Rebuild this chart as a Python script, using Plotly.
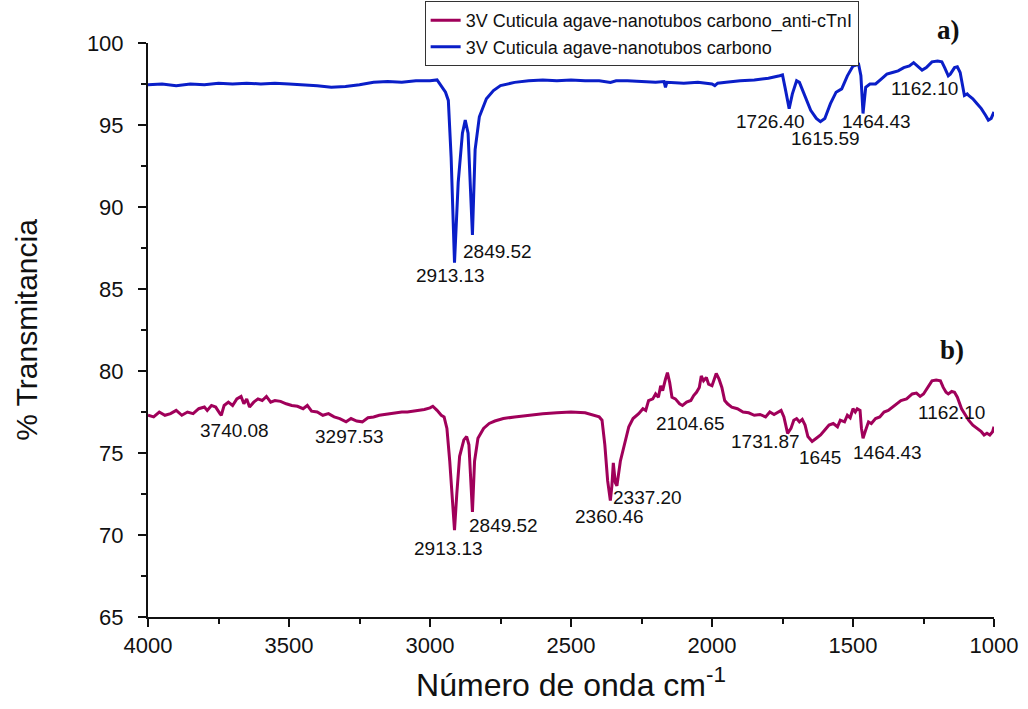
import plotly.graph_objects as go

# FTIR spectrum a): agave cuticle + carbon nanotubes
wn_a = [4000, 3950, 3900, 3850, 3800, 3750, 3700, 3650, 3600, 3550, 3500, 3450, 3400, 3350,
        3300, 3250, 3200, 3150, 3100, 3050, 3000, 2975, 2960, 2945, 2935, 2925, 2913.13, 2900,
        2885, 2875, 2865, 2858, 2849.52, 2840, 2825, 2800, 2775, 2750, 2700, 2650, 2600, 2550,
        2500, 2450, 2400, 2360, 2340, 2300, 2250, 2200, 2170, 2165, 2160, 2100, 2050, 2000,
        1990, 1980, 1950, 1900, 1850, 1800, 1760, 1750, 1740, 1726.40, 1715, 1700, 1690, 1670,
        1650, 1630, 1615.59, 1600, 1580, 1560, 1540, 1520, 1500, 1480, 1472, 1464.43, 1455,
        1440, 1420, 1400, 1380, 1360, 1340, 1320, 1300, 1285, 1270, 1255, 1240, 1220, 1200,
        1185, 1175, 1162.10, 1155, 1140, 1130, 1120, 1105, 1095, 1090, 1075, 1060, 1045, 1030,
        1020, 1010, 1000]
t_a = [97.45, 97.5, 97.4, 97.5, 97.45, 97.55, 97.5, 97.55, 97.5, 97.55, 97.5, 97.45, 97.4, 97.3,
       97.35, 97.45, 97.6, 97.65, 97.6, 97.7, 97.7, 97.75, 97.4, 97.0, 96.5, 93.0, 86.6, 91.5,
       94.5, 95.3, 94.5, 91.5, 88.3, 93.5, 95.5, 96.6, 97.1, 97.4, 97.6, 97.7, 97.75, 97.7,
       97.75, 97.7, 97.7, 97.6, 97.7, 97.7, 97.65, 97.6, 97.65, 97.3, 97.6, 97.55, 97.6, 97.5,
       97.4, 97.55, 97.6, 97.7, 97.75, 97.85, 98.0, 98.05, 97.2, 96.0, 96.9, 97.7, 97.6, 96.8,
       95.9, 95.4, 95.2, 95.4, 96.3, 97.0, 97.2, 98.0, 98.6, 98.7, 98.0, 95.7, 97.3,
       97.5, 97.5, 97.8, 98.1, 98.2, 98.3, 98.5, 98.6, 98.8, 98.6, 98.35, 98.5, 98.85, 98.9,
       98.85, 98.5, 98.0, 98.1, 98.5, 98.55, 98.2, 96.8, 96.9, 96.8, 96.6, 96.3, 96.0, 95.6,
       95.3, 95.4, 95.8]

# FTIR spectrum b): same film functionalised with anti-cTnI
wn_b = [4000, 3980, 3960, 3940, 3920, 3900, 3880, 3860, 3840, 3820, 3800, 3790, 3775, 3760,
        3745, 3740.08, 3730, 3715, 3700, 3685, 3670, 3660, 3650, 3640, 3625, 3610, 3595, 3580,
        3565, 3550, 3530, 3510, 3490, 3470, 3450, 3435, 3420, 3400, 3380, 3360, 3340, 3320,
        3297.53, 3280, 3260, 3240, 3220, 3200, 3180, 3160, 3140, 3120, 3100, 3080, 3060, 3040,
        3020, 3000, 2990, 2975, 2960, 2950, 2940, 2930, 2920, 2913.13, 2905, 2895, 2880, 2870,
        2862, 2855, 2849.52, 2842, 2830, 2810, 2790, 2770, 2740, 2700, 2650, 2600, 2550, 2500,
        2450, 2420, 2400, 2390, 2380, 2370, 2360.46, 2355, 2350, 2343, 2337.20, 2325, 2310,
        2295, 2280, 2260, 2245, 2235, 2225, 2210, 2200, 2190, 2182, 2175, 2165, 2158, 2150,
        2142, 2130, 2115, 2104.65, 2090, 2075, 2065, 2055, 2045, 2038, 2030, 2020, 2012, 2000,
        1995, 1985, 1975, 1965, 1955, 1945, 1930, 1910, 1890, 1870, 1850, 1830, 1810, 1795,
        1780, 1765, 1755, 1745, 1731.87, 1720, 1710, 1700, 1690, 1680, 1670, 1660, 1645, 1630,
        1615, 1600, 1585, 1570, 1555, 1545, 1530, 1520, 1510, 1500, 1492, 1485, 1475, 1470,
        1464.43, 1455, 1445, 1435, 1420, 1405, 1390, 1375, 1360, 1345, 1330, 1310, 1290, 1275,
        1262, 1250, 1235, 1220, 1205, 1190, 1180, 1170, 1162.10, 1150, 1140, 1130, 1115, 1100,
        1090, 1075, 1060, 1045, 1035, 1025, 1015, 1005, 1000]
t_b = [77.3, 77.2, 77.5, 77.3, 77.4, 77.6, 77.3, 77.5, 77.4, 77.7, 77.8, 77.6, 77.9, 77.8,
       77.4, 77.3, 77.9, 78.1, 77.9, 78.3, 78.45, 78.0, 78.3, 77.8, 78.1, 78.3, 78.2, 78.45,
       78.1, 78.2, 78.15, 78.0, 77.9, 77.85, 77.7, 77.9, 77.55, 77.5, 77.3, 77.4, 77.2, 77.1,
       76.9, 77.1, 76.95, 76.9, 77.15, 77.2, 77.3, 77.35, 77.4, 77.45, 77.5, 77.5, 77.55, 77.6,
       77.65, 77.75, 77.85, 77.6, 77.3, 77.2, 76.5, 74.5, 72.0, 70.3, 72.5, 74.8, 75.8, 76.0,
       75.5, 73.0, 71.4, 74.5, 75.9, 76.5, 76.8, 76.95, 77.1, 77.2, 77.3, 77.4, 77.45, 77.5,
       77.45, 77.3, 77.2, 77.0, 75.5, 73.3, 72.1, 73.0, 74.4, 73.2, 73.0, 74.5, 75.6,
       76.6, 77.1, 77.4, 77.7, 77.6, 78.2, 78.3, 78.6, 78.4, 79.1, 78.8, 79.5, 79.9, 79.3,
       78.4, 78.3, 78.0, 77.9, 78.1, 78.2, 78.5, 78.7, 79.0, 79.7, 79.4, 79.6, 79.2, 79.1,
       79.4, 79.85, 79.5, 79.0, 78.2, 78.0, 77.8, 77.7, 77.5, 77.45, 77.3, 77.35, 77.2, 77.5,
       77.35, 77.5, 77.6, 77.2, 76.2, 76.5, 77.0, 77.1, 76.9, 77.05, 76.7, 76.0, 75.7, 75.9,
       76.1, 76.4, 76.7, 76.8, 76.6, 77.0, 76.9, 77.3, 77.15, 77.7, 77.5, 77.7, 77.6, 76.5,
       75.9, 76.4, 76.9, 76.8, 77.1, 77.2, 77.5, 77.6, 77.8, 78.0, 78.2, 78.3, 78.6, 78.65,
       78.45, 78.6, 79.0, 79.4, 79.45, 79.4, 79.0, 78.7, 78.6, 78.75, 78.7, 78.4, 77.7, 77.3,
       77.0, 76.7, 76.5, 76.3, 76.1, 76.2, 76.1, 76.3, 76.6]

# Peak labels: (text, x, y)
labels_a = [("2913.13", 2929, 85.85), ("2849.52", 2759, 87.3), ("1726.40", 1791, 95.2),
            ("1615.59", 1596, 94.2), ("1464.43", 1415, 95.2), ("1162.10", 1245, 97.25)]
labels_b = [("3740.08", 3695, 76.4), ("3297.53", 3287, 76.0), ("2913.13", 2936, 69.2),
            ("2849.52", 2741, 70.6), ("2360.46", 2365, 71.15), ("2337.20", 2230, 72.3),
            ("2104.65", 2078, 76.8), ("1731.87", 1809, 75.7), ("1645", 1617, 74.7),
            ("1464.43", 1379, 75.06), ("1162.10", 1152, 77.5)]

name_a = "3V Cuticula agave-nanotubos carbono"
name_b = "3V Cuticula agave-nanotubos carbono_anti-cTnI"
color_a = "#0A1EC8"
color_b = "#A0005A"
sans = "Liberation Sans, Arial, sans-serif"

fig = go.Figure()
fig.add_trace(go.Scatter(x=wn_b, y=t_b, mode="lines", name=name_b,
                         line=dict(color=color_b, width=3)))
fig.add_trace(go.Scatter(x=wn_a, y=t_a, mode="lines", name=name_a,
                         line=dict(color=color_a, width=3)))

for txt, x, y in labels_a + labels_b:
    fig.add_annotation(x=x, y=y, text=txt, showarrow=False, xanchor="center", yanchor="middle",
                       font=dict(family=sans, size=19, color="#111111"))

# panel tags
for txt, xp, yp in [("a)", 0.962, 1.023), ("b)", 0.967, 0.465)]:
    fig.add_annotation(xref="paper", yref="paper", x=xp, y=yp, yanchor="middle",
                       text="<b>" + txt + "</b>", showarrow=False,
                       font=dict(family="Liberation Serif, Times New Roman, serif", size=27,
                                 color="#111111"))

fig.update_layout(
    width=1028, height=709,
    margin=dict(l=148, r=34, t=43, b=92, autoexpand=False),
    paper_bgcolor="white", plot_bgcolor="white",
    font=dict(family=sans, color="#111111"),
    showlegend=True,
    legend=dict(x=0.327, y=1.073, xanchor="left", yanchor="top",
                bgcolor="white", bordercolor="#333333", borderwidth=1,
                font=dict(family=sans, size=18), traceorder="normal",
                tracegroupgap=0, itemwidth=30),
    xaxis=dict(range=[4000, 1000], tickvals=[4000, 3500, 3000, 2500, 2000, 1500, 1000],
               showgrid=False, zeroline=False, showline=True, linecolor="#111111", linewidth=2,
               ticks="outside", ticklen=8, tickwidth=2, tickcolor="#111111",
               tickfont=dict(size=22),
               minor=dict(dtick=250, ticks="outside", ticklen=5, tickwidth=1.5,
                          tickcolor="#111111", showgrid=False),
               title=dict(text="Número de onda cm<sup>-1</sup>", font=dict(size=32), standoff=16)),
    yaxis=dict(range=[65, 100], tickvals=[65, 70, 75, 80, 85, 90, 95, 100],
               showgrid=False, zeroline=False, showline=True, linecolor="#111111", linewidth=2,
               ticks="outside", ticklen=8, tickwidth=2, tickcolor="#111111",
               tickfont=dict(size=22), ticklabelstandoff=10,
               minor=dict(dtick=2.5, ticks="outside", ticklen=5, tickwidth=1.5,
                          tickcolor="#111111", showgrid=False),
               title=dict(text="% Transmitancia", font=dict(size=30), standoff=40)),
)

fig.write_html("out.html")
